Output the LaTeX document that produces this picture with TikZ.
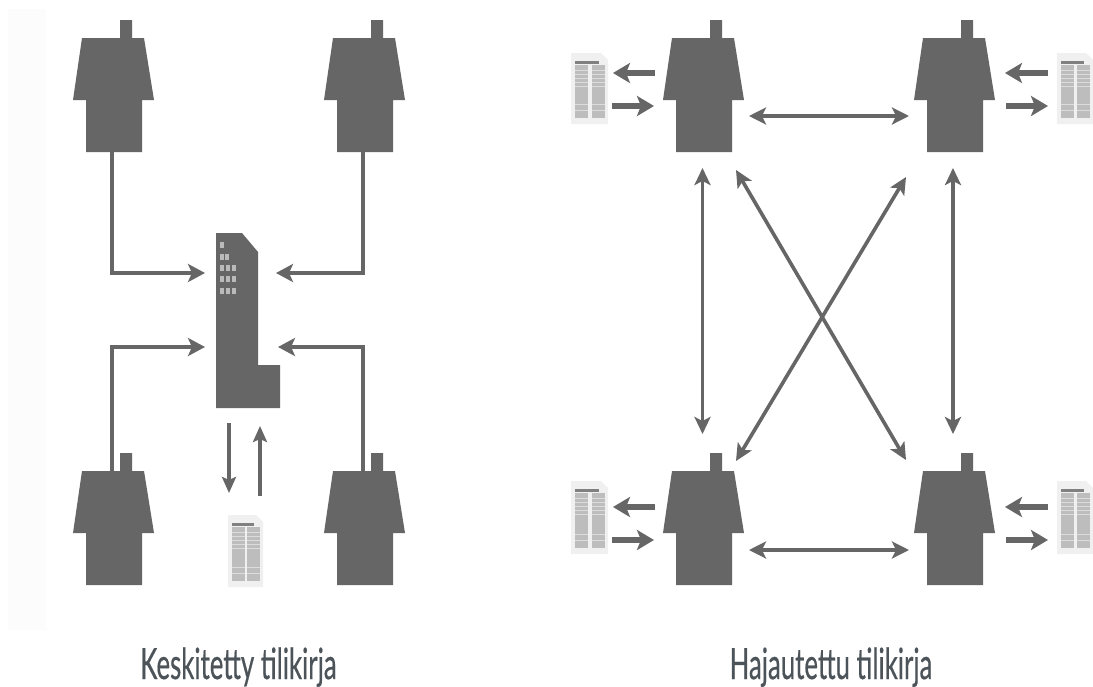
\documentclass[tikz,border=0pt]{standalone}
\usepackage{fontspec}
\usepackage{graphicx}
\setmainfont{Lato}[FakeBold=0.6]
\usetikzlibrary{arrows.meta}
\definecolor{hgray}{HTML}{666666}
\definecolor{docbg}{HTML}{F0F0F0}
\definecolor{docst}{HTML}{BDBDBD}
\definecolor{docbar}{HTML}{808080}
\definecolor{txt}{HTML}{4C5459}
\tikzset{
  conn/.style={draw=hgray,line width=4.5pt,-{Stealth[length=17pt,width=18pt,inset=4pt]}},
  bi/.style={draw=hgray,line width=4pt,{Stealth[length=17pt,width=17pt,inset=4pt]}-{Stealth[length=17pt,width=17pt,inset=4pt]}},
  bithin/.style={draw=hgray,line width=3.6pt,{Stealth[length=17pt,width=16pt,inset=4pt]}-{Stealth[length=17pt,width=16pt,inset=4pt]}},
  thin conn/.style={draw=hgray,line width=3.6pt,-{Stealth[length=16pt,width=14pt,inset=3pt]}},
  short conn/.style={draw=hgray,line width=6pt,-{Stealth[length=17pt,width=20pt,inset=4pt]}},
  anchorbox/.style={inner sep=0pt,outer sep=0pt,minimum width=#1},
  caption/.style={text=txt,font=\fontsize{43}{50}\selectfont,anchor=base,inner sep=0pt}
}
% house: #1 name, #2 x offset, #3 y offset
\newcommand{\myhouse}[3]{%
  \begin{scope}[shift={(#2,#3)}]
    \fill[hgray] (120,20)--(132,20)--(132,38)--(144,38)--(154,100)--(142,100)--(142,152)--(86,152)--(86,100)--(73,100)--(82,38)--(120,38)--cycle;
    \node[anchorbox=81pt,minimum height=114pt] (#1) at (112,95) {};
  \end{scope}}
% document: #1 name, #2 left x, #3 top y, #4 width, #5 height
\newcommand{\mydoc}[5]{%
  \begin{scope}[shift={(#2,#3)},x=#4pt/36,y=-#5pt/72]
    \fill[docbg] (0,0)--(29,0)--(36,7)--(36,72)--(0,72)--cycle;
    \fill[docbar] (4,8) rectangle (27,11);
    \fill[docst] (4,12) rectangle (17,66);
    \fill[docst] (20,12) rectangle (33,66);
    \foreach \yy in {17,21,25,29,33,52,58}{\fill[docbg!60!docst] (4,\yy) rectangle (33,\yy+1);}
    \fill[docbg] (17,12) rectangle (20,66);
    \node[inner sep=0pt,outer sep=0pt,minimum width=#4pt,minimum height=#5pt] (#1) at (18,36) {};
  \end{scope}}
\begin{document}
\begin{tikzpicture}[x=1pt,y=-1pt]
\useasboundingbox (0,0) rectangle (1093,686);
\fill[white] (0,0) rectangle (1093,686);
\fill[black!1] (8,9) rectangle (46,630);

\myhouse{ha}{0}{0}
\myhouse{hb}{251}{0}
\myhouse{hc}{0}{433}
\myhouse{hd}{251}{433}
\myhouse{he}{590}{0}
\myhouse{hf}{841}{0}
\myhouse{hg}{590}{433}
\myhouse{hh}{841}{433}

% ledger building
\fill[hgray] (216,233)--(242,233)--(258,252)--(258,365)--(280,365)--(280,408)--(216,408)--cycle;
\node[inner sep=0pt,outer sep=0pt,minimum width=64pt,minimum height=175pt] (ledger) at (248,320.5) {};
\foreach \wx/\wy in {220/248,220/260,225/260,220/271,226/271,232/271,220/282,226/282,232/282,220/294,226/294,232/294}
  \fill[black!27] (\wx,\wy) rectangle ++(4,-6);

\coordinate (la) at (205,273);
\coordinate (lb) at (276,273);
\coordinate (lc) at (205,347);
\coordinate (ld) at (278,347);
\draw[conn] (ha.south) |- (la);
\draw[conn] (hb.south) |- (lb);
\draw[conn] (hc.north) |- (lc);
\draw[conn] (hd.north) |- (ld);

% central document
\mydoc{da}{228}{515}{35}{72}
\coordinate (a1) at (229,423);
\coordinate (a2) at (229,493);
\coordinate (a3) at (260,496);
\coordinate (a4) at (260,426);
\draw[thin conn] (a1) -- (a2);
\draw[thin conn] (a3) -- (a4);

% right documents
\mydoc{de}{571}{53}{37}{71}
\mydoc{df}{1057}{53}{36}{71}
\mydoc{dg}{571}{481}{37}{73}
\mydoc{dh}{1057}{481}{36}{73}

\coordinate (e1) at (655,73); \coordinate (e2) at (613,73);
\coordinate (e3) at (612,106); \coordinate (e4) at (654,106);
\draw[short conn] (e1) -- (e2);
\draw[short conn] (e3) -- (e4);
\coordinate (f1) at (1048,73); \coordinate (f2) at (1005,73);
\coordinate (f3) at (1006,106); \coordinate (f4) at (1048,106);
\draw[short conn] (f1) -- (f2);
\draw[short conn] (f3) -- (f4);
\coordinate (g1) at (655,507); \coordinate (g2) at (613,507);
\coordinate (g3) at (612,540); \coordinate (g4) at (654,540);
\draw[short conn] (g1) -- (g2);
\draw[short conn] (g3) -- (g4);
\coordinate (h1) at (1048,507); \coordinate (h2) at (1005,507);
\coordinate (h3) at (1006,540); \coordinate (h4) at (1048,540);
\draw[short conn] (h1) -- (h2);
\draw[short conn] (h3) -- (h4);

% mesh
\coordinate (m1) at (749,116); \coordinate (m2) at (909,116);
\coordinate (m3) at (749,550); \coordinate (m4) at (909,550);
\coordinate (m5) at (702.5,168); \coordinate (m6) at (702.5,434);
\coordinate (m7) at (953,168); \coordinate (m8) at (953,434);
\coordinate (m9) at (736,170); \coordinate (m10) at (906,460);
\coordinate (m11) at (906,177); \coordinate (m12) at (736,461);
\draw[bi] (m1) -- (m2);
\draw[bi] (m3) -- (m4);
\draw[bithin] (m5) -- (m6);
\draw[bithin] (m7) -- (m8);
\draw[bithin] (m9) -- (m10);
\draw[bithin] (m11) -- (m12);

% captions
\begin{scope}
\clip (0,0) rectangle (1093,686);
\node[caption] (capa) at (238.5,679) {\scalebox{0.6}[1]{Keskitetty tilikirja}};
\node[caption] (capb) at (831,679) {\scalebox{0.6}[1]{Hajautettu tilikirja}};
\end{scope}
\end{tikzpicture}
\end{document}
